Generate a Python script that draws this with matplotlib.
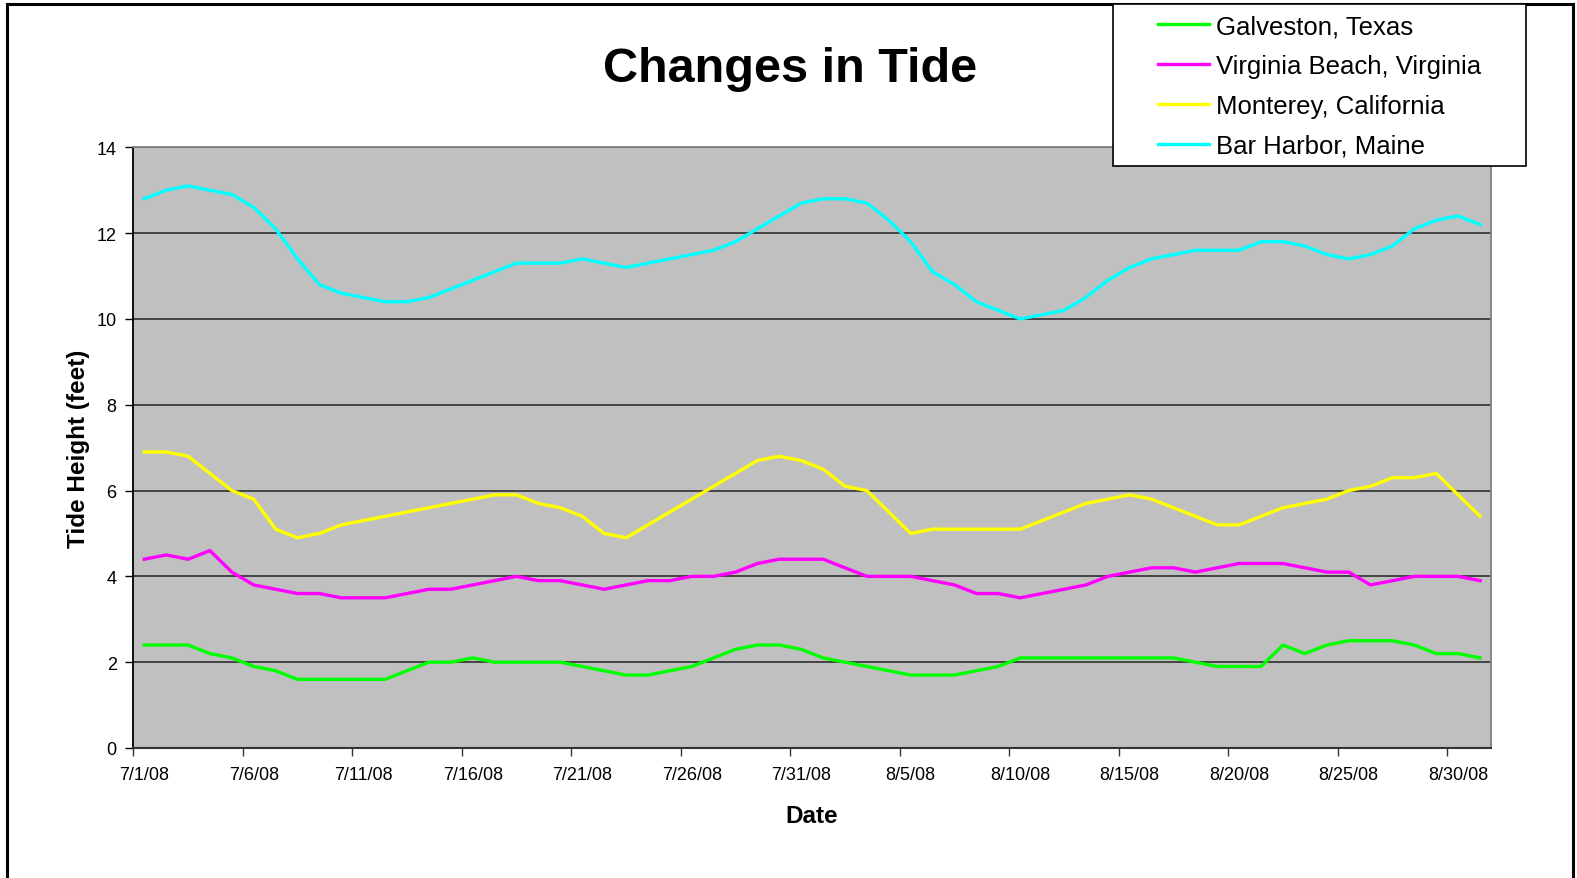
import numpy as np
import pandas as pd
import matplotlib
matplotlib.use("Agg")
import matplotlib.pyplot as plt
from matplotlib.patches import Rectangle

plt.rcParams['font.family'] = ['Liberation Sans', 'DejaVu Sans']

dates = pd.date_range('2008-07-01', '2008-08-31', freq='D')

galveston = [2.4, 2.4, 2.4, 2.2, 2.1, 1.9, 1.8, 1.6, 1.6, 1.6, 1.6, 1.6, 1.8, 2.0, 2.0, 2.1,
             2.0, 2.0, 2.0, 2.0, 1.9, 1.8, 1.7, 1.7, 1.8, 1.9, 2.1, 2.3, 2.4, 2.4, 2.3, 2.1,
             2.0, 1.9, 1.8, 1.7, 1.7, 1.7, 1.8, 1.9, 2.1, 2.1, 2.1, 2.1, 2.1, 2.1, 2.1, 2.1,
             2.0, 1.9, 1.9, 1.9, 2.4, 2.2, 2.4, 2.5, 2.5, 2.5, 2.4, 2.2, 2.2, 2.1]
virginia = [4.4, 4.5, 4.4, 4.6, 4.1, 3.8, 3.7, 3.6, 3.6, 3.5, 3.5, 3.5, 3.6, 3.7, 3.7, 3.8,
            3.9, 4.0, 3.9, 3.9, 3.8, 3.7, 3.8, 3.9, 3.9, 4.0, 4.0, 4.1, 4.3, 4.4, 4.4, 4.4,
            4.2, 4.0, 4.0, 4.0, 3.9, 3.8, 3.6, 3.6, 3.5, 3.6, 3.7, 3.8, 4.0, 4.1, 4.2, 4.2,
            4.1, 4.2, 4.3, 4.3, 4.3, 4.2, 4.1, 4.1, 3.8, 3.9, 4.0, 4.0, 4.0, 3.9]
monterey = [6.9, 6.9, 6.8, 6.4, 6.0, 5.8, 5.1, 4.9, 5.0, 5.2, 5.3, 5.4, 5.5, 5.6, 5.7, 5.8,
            5.9, 5.9, 5.7, 5.6, 5.4, 5.0, 4.9, 5.2, 5.5, 5.8, 6.1, 6.4, 6.7, 6.8, 6.7, 6.5,
            6.1, 6.0, 5.5, 5.0, 5.1, 5.1, 5.1, 5.1, 5.1, 5.3, 5.5, 5.7, 5.8, 5.9, 5.8, 5.6,
            5.4, 5.2, 5.2, 5.4, 5.6, 5.7, 5.8, 6.0, 6.1, 6.3, 6.3, 6.4, 5.9, 5.4]
bar_harbor = [12.8, 13.0, 13.1, 13.0, 12.9, 12.6, 12.1, 11.4, 10.8, 10.6, 10.5, 10.4, 10.4,
              10.5, 10.7, 10.9, 11.1, 11.3, 11.3, 11.3, 11.4, 11.3, 11.2, 11.3, 11.4, 11.5,
              11.6, 11.8, 12.1, 12.4, 12.7, 12.8, 12.8, 12.7, 12.3, 11.8, 11.1, 10.8, 10.4,
              10.2, 10.0, 10.1, 10.2, 10.5, 10.9, 11.2, 11.4, 11.5, 11.6, 11.6, 11.6, 11.8,
              11.8, 11.7, 11.5, 11.4, 11.5, 11.7, 12.1, 12.3, 12.4, 12.2]

series = [("Galveston, Texas", galveston, "#00FF00"),
          ("Virginia Beach, Virginia", virginia, "#FF00FF"),
          ("Monterey, California", monterey, "#FFFF00"),
          ("Bar Harbor, Maine", bar_harbor, "#00FFFF")]

W, H = 1577, 879
fig = plt.figure(figsize=(W / 100, H / 100), dpi=100)
ax = fig.add_axes([133.3 / W, 1 - 749 / H, (1491 - 133.3) / W, (749 - 148.3) / H])
ax.set_facecolor("#C0C0C0")

x = np.arange(len(dates))
for name, vals, col in series:
    ax.plot(x, vals, color=col, lw=2.4, label=name, zorder=3)

ax.set_ylim(0, 14)
ax.set_yticks(range(0, 15, 2))
ax.yaxis.grid(True, color="#3a3a3a", lw=1.3, zorder=1)
ax.set_axisbelow(True)
ax.set_xlim(-0.5, len(dates) - 0.5)

major = x[::5]
ax.set_xticks(major)
ax.set_xticklabels([f"{d.month}/{d.day}/08" for d in dates[::5]])
ax.set_xticks(major - 0.5, minor=True)
ax.tick_params(axis='x', which='major', length=0, pad=13, labelsize=13)
ax.tick_params(axis='x', which='minor', length=6, width=1, color="#333333")
ax.tick_params(axis='y', length=6, width=1, labelsize=13, pad=6)

ax.spines['left'].set_color("black")
ax.spines['left'].set_linewidth(1.3)
ax.spines['bottom'].set_color("#333333")
ax.spines['bottom'].set_linewidth(1.5)
for s in ['top', 'right']:
    ax.spines[s].set_color("#808080")
    ax.spines[s].set_linewidth(1.3)

ax.set_xlabel("Date", fontsize=17.5, fontweight='bold', labelpad=15)
ax.set_ylabel("Tide Height (feet)", fontsize=17.5, fontweight='bold', labelpad=5)

fig.text(790 / W, 1 - 69 / H, "Changes in Tide", fontsize=35, fontweight='bold',
         ha='center', va='center')

# outer chart border
fig.patches.append(Rectangle((7 / W, -0.1), (1573 - 7) / W, 1.1 - 5 / H,
                             transform=fig.transFigure, fill=False, ec="black", lw=2.2))

# legend box
lx0, lx1, ly0, ly1 = 1113, 1526, 5, 167
fig.patches.append(Rectangle((lx0 / W, 1 - ly1 / H), (lx1 - lx0) / W, (ly1 - ly0) / H,
                             transform=fig.transFigure, fc="white", ec="black", lw=1.2,
                             zorder=5))
leg = fig.legend(loc='center', bbox_to_anchor=((lx0 + lx1) / 2 / W, 1 - (ly0 + ly1 + 2) / 2 / H),
                 frameon=False, fontsize=18.5, handlelength=2.0, handletextpad=0.25,
                 labelspacing=0.62)
leg.set_zorder(6)

fig.savefig("out.png", dpi=100)
